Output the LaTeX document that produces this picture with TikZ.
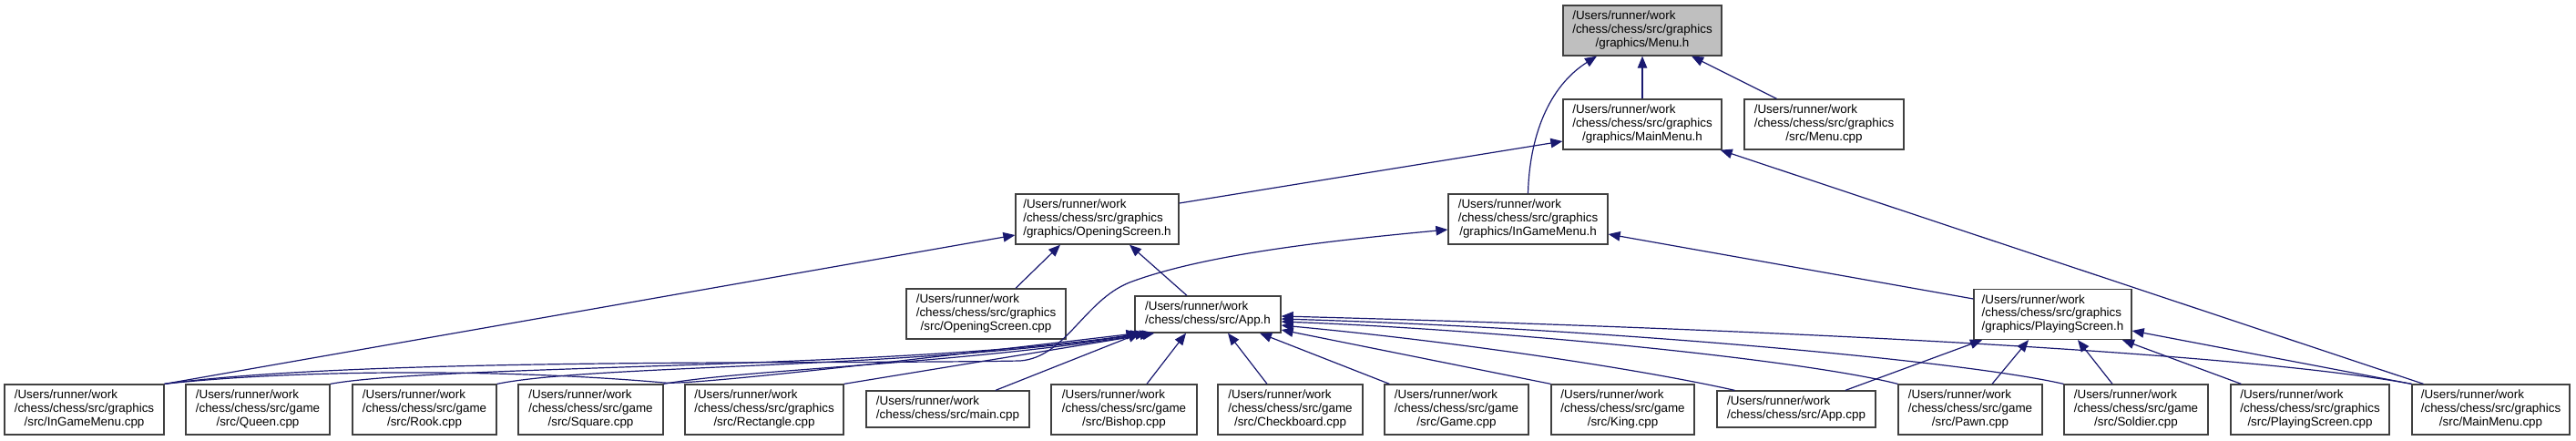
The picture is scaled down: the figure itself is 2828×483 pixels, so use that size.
\documentclass[tikz,border=0pt]{standalone}
\usepackage{fontspec}
\setmainfont{Liberation Sans}
\usetikzlibrary{arrows.meta}
\definecolor{midnight}{HTML}{191970}
\definecolor{boxline}{HTML}{404040}
\definecolor{boxgray}{HTML}{BFBFBF}
\newcommand{\lblthree}[3]{\begin{tabular}{@{}l@{}}#1\\#2\\\multicolumn{1}{@{}c@{}}{#3}\end{tabular}}
\newcommand{\lbltwo}[2]{\begin{tabular}{@{}l@{}}#1\\#2\end{tabular}}
\begin{document}
\begin{tikzpicture}[x=1pt,y=-1pt,
  box/.style={draw=boxline, line width=1.3pt, fill=white, inner sep=0pt, minimum height=55pt, font={\fontsize{13.4}{14.8}\selectfont}},
  boxtwo/.style={box, minimum height=40pt},
  dep/.style={draw=midnight, line width=1.2pt, -{Triangle[length=13pt,width=10.5pt]}}]
\useasboundingbox (0,0) rectangle (2828,483);
% top levels
\node[box, fill=boxgray, minimum width=174pt] (menuh) at (1803,33.5) {\lblthree{/Users/runner/work}{/chess/chess/src/graphics}{/graphics/Menu.h}};
\node[box, minimum width=174pt] (mainmenuh) at (1803,136.5) {\lblthree{/Users/runner/work}{/chess/chess/src/graphics}{/graphics/MainMenu.h}};
\node[box, minimum width=175pt] (menucpp) at (2002.5,136.5) {\lblthree{/Users/runner/work}{/chess/chess/src/graphics}{/src/Menu.cpp}};
\node[box, minimum width=179pt] (openh) at (1204.5,240.5) {\lblthree{/Users/runner/work}{/chess/chess/src/graphics}{/graphics/OpeningScreen.h}};
\node[box, minimum width=175pt] (ingameh) at (1677.5,240.5) {\lblthree{/Users/runner/work}{/chess/chess/src/graphics}{/graphics/InGameMenu.h}};
\node[box, minimum width=175pt] (opencpp) at (1082.5,344.5) {\lblthree{/Users/runner/work}{/chess/chess/src/graphics}{/src/OpeningScreen.cpp}};
\node[boxtwo, minimum width=160pt] (apph) at (1326,345) {\lbltwo{/Users/runner/work}{/chess/chess/src/App.h}};
\node[box, minimum width=173pt] (playh) at (2253.5,345) {\lblthree{/Users/runner/work}{/chess/chess/src/graphics}{/graphics/PlayingScreen.h}};
% bottom row
\node[box, minimum width=175pt] (igmcpp) at (92.5,449.5) {\lblthree{/Users/runner/work}{/chess/chess/src/graphics}{/src/InGameMenu.cpp}};
\node[box, minimum width=158pt] (queen) at (283,449.5) {\lblthree{/Users/runner/work}{/chess/chess/src/game}{/src/Queen.cpp}};
\node[box, minimum width=158pt] (rook) at (466,449.5) {\lblthree{/Users/runner/work}{/chess/chess/src/game}{/src/Rook.cpp}};
\node[box, minimum width=159pt] (square) at (648.5,449.5) {\lblthree{/Users/runner/work}{/chess/chess/src/game}{/src/Square.cpp}};
\node[box, minimum width=174pt] (rect) at (839,449.5) {\lblthree{/Users/runner/work}{/chess/chess/src/graphics}{/src/Rectangle.cpp}};
\node[boxtwo, minimum width=179pt] (maincpp) at (1040.5,449) {\lbltwo{/Users/runner/work}{/chess/chess/src/main.cpp}};
\node[box, minimum width=160pt] (bishop) at (1234,449.5) {\lblthree{/Users/runner/work}{/chess/chess/src/game}{/src/Bishop.cpp}};
\node[box, minimum width=159pt] (checkb) at (1416.5,449.5) {\lblthree{/Users/runner/work}{/chess/chess/src/game}{/src/Checkboard.cpp}};
\node[box, minimum width=158pt] (game) at (1599,449.5) {\lblthree{/Users/runner/work}{/chess/chess/src/game}{/src/Game.cpp}};
\node[box, minimum width=157pt] (king) at (1781.5,449.5) {\lblthree{/Users/runner/work}{/chess/chess/src/game}{/src/King.cpp}};
\node[boxtwo, minimum width=174pt] (appcpp) at (1972,449) {\lbltwo{/Users/runner/work}{/chess/chess/src/App.cpp}};
\node[box, minimum width=158pt] (pawn) at (2163,449.5) {\lblthree{/Users/runner/work}{/chess/chess/src/game}{/src/Pawn.cpp}};
\node[box, minimum width=158pt] (soldier) at (2345,449.5) {\lblthree{/Users/runner/work}{/chess/chess/src/game}{/src/Soldier.cpp}};
\node[box, minimum width=174pt] (playcpp) at (2536,449.5) {\lblthree{/Users/runner/work}{/chess/chess/src/graphics}{/src/PlayingScreen.cpp}};
\node[box, minimum width=173pt] (mainmenucpp) at (2734.5,449.5) {\lblthree{/Users/runner/work}{/chess/chess/src/graphics}{/src/MainMenu.cpp}};
% edges to Menu.h
\draw[dep] (mainmenuh.north) -- (menuh.south);
\draw[dep] ([xshift=-52pt]menucpp.north) -- ([xshift=54pt]menuh.south);
\draw[dep] (ingameh.north) .. controls (1679,150) and (1700,95) .. ([xshift=-50pt]menuh.south);
% edges to MainMenu.h
\draw[dep] ([yshift=17.5pt]openh.east) -- ([yshift=-18.5pt]mainmenuh.west);
\draw[dep] ([xshift=-74pt]mainmenucpp.north) -- ([xshift=-2pt]mainmenuh.south east);
% edges to OpeningScreen.h
\draw[dep] ([xshift=32.5pt]opencpp.north) -- ([xshift=-40.5pt]openh.south);
\draw[dep] ([xshift=-23pt]apph.north) -- ([xshift=35.5pt]openh.south);
\draw[dep] (igmcpp.north east) -- ([yshift=-17.5pt]openh.west);
% edges to InGameMenu.h
\draw[dep] (igmcpp.north east) .. controls (400,392) and (900,400) .. (1120,396) .. controls (1170,392) and (1190,330) .. (1240,310) .. controls (1320,280) and (1450,265) .. ([yshift=-11.5pt]ingameh.west);
\draw[dep] ([yshift=17pt]playh.west) -- ([yshift=-16.5pt]ingameh.east);
% edges to App.h
\draw[dep] (igmcpp.north east) .. controls (330,405) and (560,405) .. (729,420) .. controls (760,423) and (1000,395) .. ([xshift=4pt]apph.south west);
\draw[dep] (queen.north east) .. controls (480,400) and (1000,405) .. ([xshift=9pt]apph.south west);
\draw[dep] (rook.north east) .. controls (650,400) and (1000,405) .. ([xshift=14pt]apph.south west);
\draw[dep] (square.north east) .. controls (820,405) and (1050,400) .. ([xshift=19pt]apph.south west);
\draw[dep] (rect.north east) -- ([xshift=22pt]apph.south west);
\draw[dep] ([xshift=52.5pt]maincpp.north) -- ([xshift=6pt]apph.south west);
\draw[dep] ([xshift=25pt]bishop.north) -- ([xshift=-24pt]apph.south);
\draw[dep] ([xshift=-25.5pt]checkb.north) -- ([xshift=22pt]apph.south);
\draw[dep] ([xshift=6pt]game.north west) -- ([xshift=57pt]apph.south);
\draw[dep] (king.north west) -- ([yshift=-17pt]apph.east);
\draw[dep] ([xshift=20pt]appcpp.north west) .. controls (1800,405) and (1600,375) .. ([yshift=-12pt]apph.east);
\draw[dep] (pawn.north west) .. controls (1980,395) and (1650,362) .. ([yshift=-8pt]apph.east);
\draw[dep] (soldier.north west) .. controls (2150,395) and (1750,360) .. ([yshift=-5pt]apph.east);
\draw[dep] (mainmenucpp.north west) .. controls (2450,385) and (1900,360) .. ([yshift=-2pt]apph.east);
% edges to PlayingScreen.h
\draw[dep] ([xshift=54pt]appcpp.north) -- ([xshift=-77.5pt]playh.south);
\draw[dep] ([xshift=24pt]pawn.north) -- ([xshift=-26.5pt]playh.south);
\draw[dep] ([xshift=-26pt]soldier.north) -- ([xshift=27.5pt]playh.south);
\draw[dep] ([xshift=12pt]playcpp.north west) -- ([xshift=76.5pt]playh.south);
\draw[dep] (mainmenucpp.north west) -- ([yshift=-18pt]playh.east);
\end{tikzpicture}
\end{document}
